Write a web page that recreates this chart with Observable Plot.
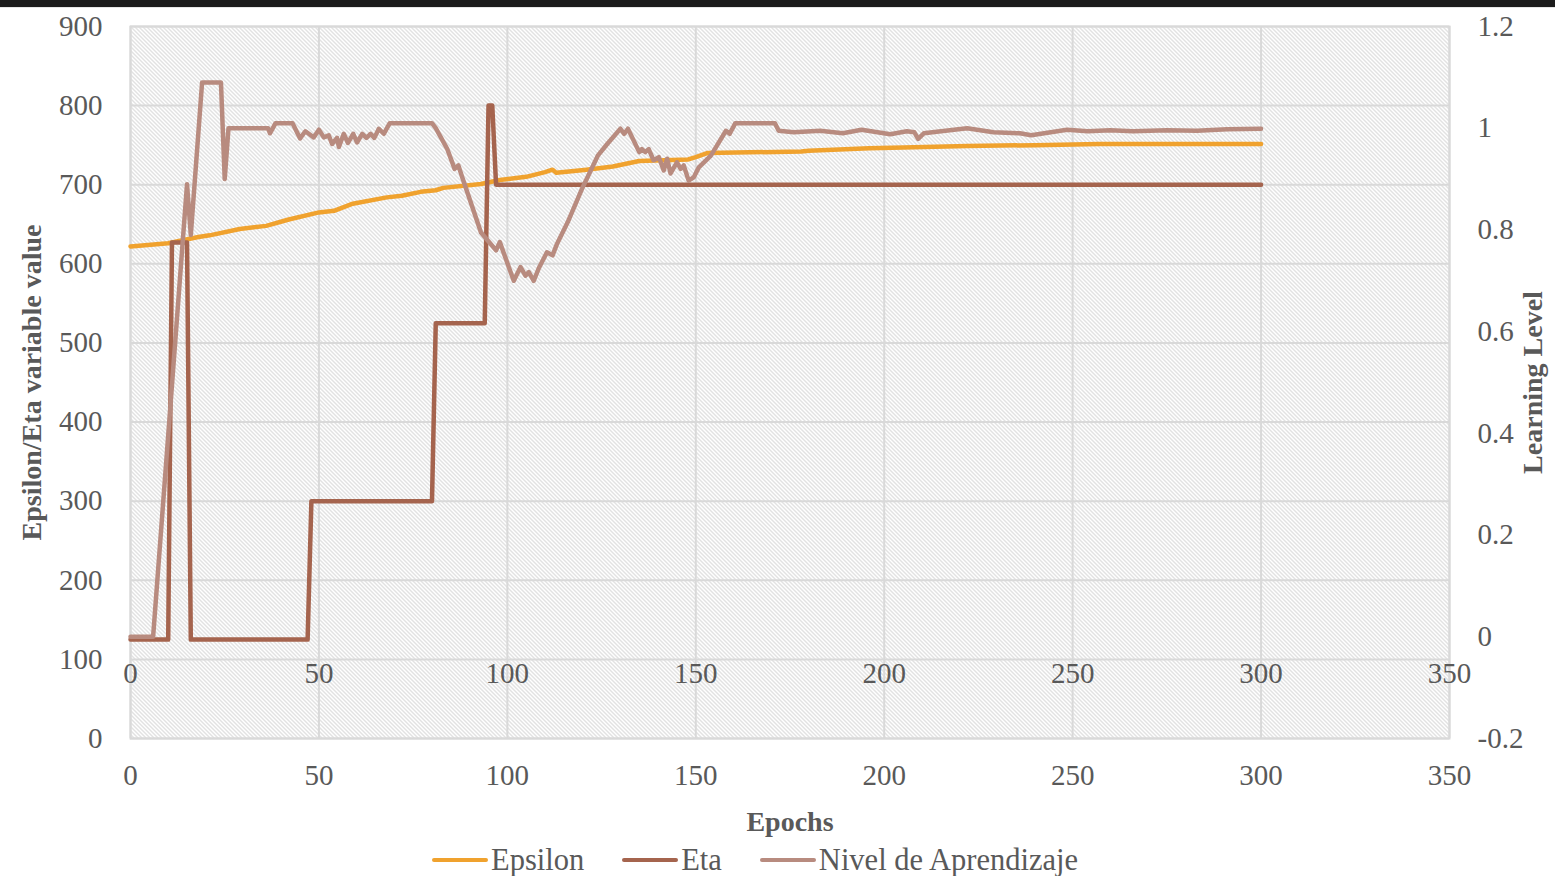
<!DOCTYPE html>
<html>
<head>
<meta charset="utf-8">
<script src="https://cdn.jsdelivr.net/npm/d3@7"></script>
<script src="https://cdn.jsdelivr.net/npm/@observablehq/plot@0.6"></script>
<style>
  html, body { margin: 0; padding: 0; background: #ffffff; width: 1555px; height: 876px; overflow: hidden; }
  #topbar { height: 8px; background: #1c1c1c; border-bottom: 1px solid #e6e6e6; box-sizing: border-box; }
  #legend { display: flex; align-items: center; margin-left: 432px; height: 32px;
            font-family: 'Liberation Serif', serif; font-size: 30.5px; color: #595959; }
  #legend .item { display: flex; align-items: center; margin-right: 38px; }
  #legend .sw { width: 56px; height: 4px; border-radius: 2px; margin-right: 3px; }
</style>
</head>
<body>
<div id="topbar"></div>
<div id="chart"></div>
<div id="legend"></div>
<script>
// ---- data ----
const xTicks = [0, 50, 100, 150, 200, 250, 300, 350];
const yTicks = [0, 100, 200, 300, 400, 500, 600, 700, 800, 900];
const rightTicks = [-0.2, 0, 0.2, 0.4, 0.6, 0.8, 1, 1.2];

const epsilonEpoch = [0, 10, 18, 21, 29, 36, 42, 50, 54, 59, 68, 72, 77, 81, 83, 93, 98, 105, 110, 112, 113, 121, 128, 135, 148, 150, 153, 178, 180, 196, 205, 222, 240, 257, 300];
const epsilonValue = [622, 626, 634, 636, 644, 648, 656, 665, 667, 676, 684, 686, 691, 693, 696, 701, 706, 710, 716, 719, 715, 719, 723, 730, 732, 735, 740, 742, 743, 746, 747, 749, 750, 751.5, 751.5];

const etaEpoch = [0, 10, 11, 15, 16, 47, 48, 80, 81, 94, 95, 96, 97, 300];
const etaValue = [125, 125, 627, 627, 125, 125, 300, 300, 525, 525, 800, 800, 700, 700];

const nivelEpoch = [0, 6, 15, 16, 19, 24, 25, 26, 36.5, 37, 38.5, 43, 45, 46.4, 48.6, 50, 51.3, 52.6, 53.5, 54.8, 55.3, 56.6, 57.7, 59.1, 60.1, 61.5, 62.6, 63.7, 64.7, 65.9, 67.2, 68.8, 80, 81, 84, 86, 87, 88, 93, 97, 98, 101.7, 103.5, 104.8, 105.7, 107, 108.3, 110.5, 112, 113.2, 116, 120, 124, 126.5, 130, 131, 132, 135, 135.7, 136.6, 137.5, 138.8, 140.2, 141.5, 142.4, 143.3, 145, 146, 146.8, 148.1, 149.5, 150.8, 154, 158, 159, 160.5, 171, 172, 176, 183, 189, 194, 201.6, 206, 208, 209, 210.5, 222, 229, 236, 239, 248.5, 254, 260, 266, 275, 283, 291, 300];
const nivelValue = [0, 0, 0.89, 0.79, 1.09, 1.09, 0.90, 1.0, 1.0, 0.99, 1.01, 1.01, 0.98, 0.994, 0.982, 0.997, 0.982, 0.986, 0.969, 0.981, 0.963, 0.989, 0.971, 0.989, 0.972, 0.989, 0.981, 0.989, 0.981, 0.999, 0.989, 1.01, 1.01, 1.0, 0.96, 0.92, 0.927, 0.904, 0.795, 0.76, 0.776, 0.70, 0.727, 0.71, 0.717, 0.70, 0.724, 0.756, 0.75, 0.773, 0.815, 0.884, 0.946, 0.969, 0.999, 0.989, 0.999, 0.953, 0.959, 0.953, 0.959, 0.937, 0.943, 0.917, 0.94, 0.911, 0.933, 0.92, 0.927, 0.897, 0.904, 0.923, 0.946, 0.995, 0.989, 1.01, 1.01, 0.995, 0.992, 0.995, 0.99, 0.997, 0.988, 0.994, 0.992, 0.979, 0.99, 1.0, 0.992, 0.99, 0.986, 0.997, 0.994, 0.996, 0.994, 0.996, 0.995, 0.998, 0.999];

const seriesNames = ["Epsilon", "Eta", "Nivel de Aprendizaje"];
const seriesColors = ["#F0A22E", "#A5644E", "#B88B7F"];

// ---- build ----
const rightMin = -0.2, rightMax = 1.2, leftMax = 900;
const toLeft = v => (v - rightMin) / (rightMax - rightMin) * leftMax;
const fromLeft = d => d / leftMax * (rightMax - rightMin) + rightMin;

const epsilon = epsilonEpoch.map((e, i) => ({epoch: e, value: epsilonValue[i]}));
const eta = etaEpoch.map((e, i) => ({epoch: e, value: etaValue[i]}));
const nivel = nivelEpoch.map((e, i) => ({epoch: e, value: toLeft(nivelValue[i])}));

const txt = "#595959";
const grid = {stroke: "#d9d9d9", strokeOpacity: 1, strokeWidth: 2};
const lineOpts = (c) => ({x: "epoch", y: "value", stroke: c, strokeWidth: 4.5, strokeLinejoin: "round", strokeLinecap: "round"});

const chart = Plot.plot({
  width: 1555,
  height: 836,
  marginTop: 18,
  marginBottom: 106,
  marginLeft: 130,
  marginRight: 106,
  x: {domain: [0, 350]},
  y: {domain: [0, 900]},
  style: {fontFamily: "'Liberation Serif', serif", fontSize: "29px", color: txt, background: "white", overflow: "visible"},
  marks: [
    Plot.frame({fill: "url(#hatch)", stroke: "none"}),
    Plot.gridX(xTicks, grid),
    Plot.gridY(yTicks, grid),
    Plot.frame({stroke: "#d9d9d9", strokeWidth: 2}),
    Plot.axisX(xTicks, {tickSize: 0, tickPadding: 26, label: null, fill: txt}),
    Plot.text(xTicks, {x: d => d, y: () => toLeft(0), dy: 37, text: d => String(d), fill: txt}),
    Plot.axisY(yTicks, {anchor: "left", tickSize: 0, tickPadding: 28, label: null, fill: txt}),
    Plot.axisY(rightTicks.map(toLeft), {anchor: "right", tickSize: 0, tickPadding: 28, label: null, fill: txt,
      tickFormat: d => String(+fromLeft(d).toFixed(1))}),
    Plot.line(epsilon, lineOpts(seriesColors[0])),
    Plot.line(eta, lineOpts(seriesColors[1])),
    Plot.line(nivel, lineOpts(seriesColors[2])),
    Plot.text(["Epochs"], {frameAnchor: "bottom", dy: 92, text: d => d, fontWeight: "bold", fontSize: 28, fill: txt}),
    Plot.text(["Epsilon/Eta variable value"], {frameAnchor: "left", dx: -98, rotate: -90, textAnchor: "middle", text: d => d, fontWeight: "bold", fontSize: 28, fill: txt}),
    Plot.text(["Learning Level"], {frameAnchor: "right", dx: 84, rotate: -90, textAnchor: "middle", text: d => d, fontWeight: "bold", fontSize: 28, fill: txt})
  ]
});

d3.select(chart).insert("defs", ":first-child").html(
  '<pattern id="hatch" patternUnits="userSpaceOnUse" width="4" height="4">' +
  '<rect width="4" height="4" fill="#ffffff"/>' +
  '<path d="M-1,-1L5,5M-1,3L1,5M3,-1L5,1" stroke="#c4c4c4" stroke-width="1"/>' +
  '</pattern>');

document.getElementById("chart").appendChild(chart);

const legend = d3.select("#legend");
seriesNames.forEach((n, i) => {
  const it = legend.append("div").attr("class", "item");
  it.append("div").attr("class", "sw").style("background", seriesColors[i]);
  it.append("span").text(n);
});
</script>
</body>
</html>
